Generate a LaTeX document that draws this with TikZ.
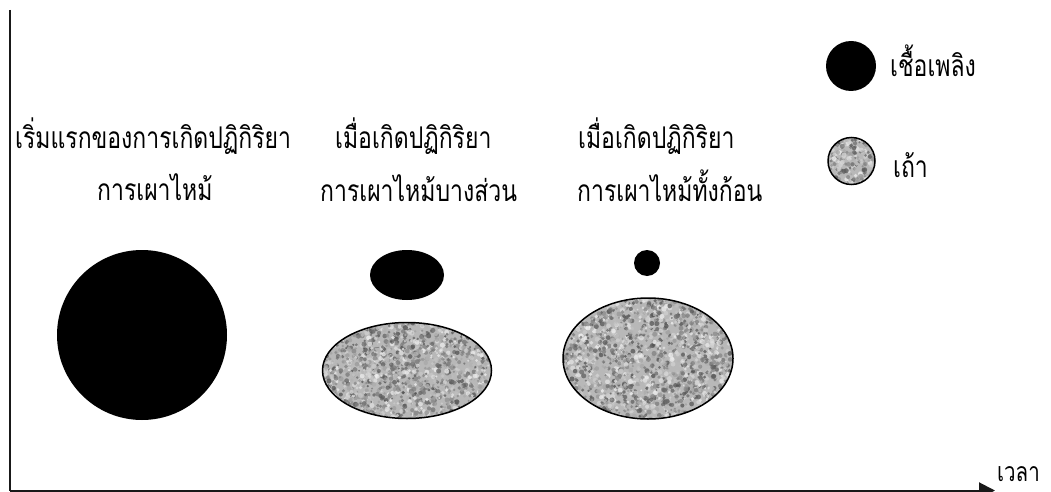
\documentclass[tikz,border=0pt]{standalone}
\usepackage{fontspec}
\newfontfamily\thaifont[Script=Thai]{Loma}
\usetikzlibrary{arrows.meta}
\tikzset{
  lbl/.style={font=\thaifont\fontsize{23}{27}\selectfont, inner sep=0pt, anchor=base west},
  fuel/.style={fill=black, draw=none},
  axis/.style={line width=2pt, draw=black!90},
}
\newcommand{\tall}[1]{\scalebox{1}[1.3]{#1}}
\newcommand{\ashblob}[5]{% cx cy rx ry n
  \begin{scope}
    \clip (#1,#2) ellipse [x radius=#3, y radius=#4];
    \fill[black!28] (#1-#3,#2-#4) rectangle (#1+#3,#2+#4);
    \foreach \k in {1,...,#5}{
      \pgfmathsetmacro\px{#1+rand*#3}
      \pgfmathsetmacro\py{#2+rand*#4}
      \pgfmathsetmacro\gv{int(5+rnd*65)}
      \pgfmathsetmacro\rr{1.0+rnd*1.6}
      \fill[black!\gv, opacity=0.75] (\px,\py) circle [radius=\rr];
    }
  \end{scope}
  \draw[line width=1.5pt] (#1,#2) ellipse [x radius=#3, y radius=#4];
}
\begin{document}
\begin{tikzpicture}[x=1pt,y=-1pt]
\pgfmathsetseed{1234}
\useasboundingbox (0,0) rectangle (1051,492);
\fill[white] (0,0) rectangle (1051,492);
% axes
\coordinate (top) at (10,10);
\coordinate (orig) at (10,490.5);
\coordinate (xend) at (995,490.5);
\draw[axis] (top) -- (orig);
\draw[axis, -{Triangle[length=16pt,width=16pt]}] (orig) -- (xend);
\node[lbl, font=\thaifont\fontsize{20.5}{24}\selectfont] (time) at (997,481) {\tall{เวลา}};
% stage 1
\fill[fuel] (142,335) circle [radius=85];
\node[lbl] (l1a) at (15,148) {\tall{เริ่มแรกของการเกิดปฏิกิริยา}};
\node[lbl] (l1b) at (97,200) {\tall{การเผาไหม้}};
% stage 2
\fill[fuel] (407,275) ellipse [x radius=37, y radius=25];
\ashblob{407}{370.5}{84.5}{48}{1700}
\node[lbl] (l2a) at (335,148) {\tall{เมื่อเกิดปฏิกิริยา}};
\node[lbl] (l2b) at (320,201) {\tall{การเผาไหม้บางส่วน}};
% stage 3
\fill[fuel] (647,263) circle [radius=13];
\ashblob{648}{358.5}{85}{60.5}{2100}
\node[lbl] (l3a) at (578,148) {\tall{เมื่อเกิดปฏิกิริยา}};
\node[lbl] (l3b) at (577,201) {\tall{การเผาไหม้ทั้งก้อน}};
% legend
\fill[fuel] (851,66) circle [radius=25];
\node[lbl] (legfuel) at (890,77) {\tall{เชื้อเพลิง}};
\ashblob{851.5}{161}{23.5}{23.5}{240}
\node[lbl] (legash) at (893,177) {\tall{เถ้า}};
\end{tikzpicture}
\end{document}
